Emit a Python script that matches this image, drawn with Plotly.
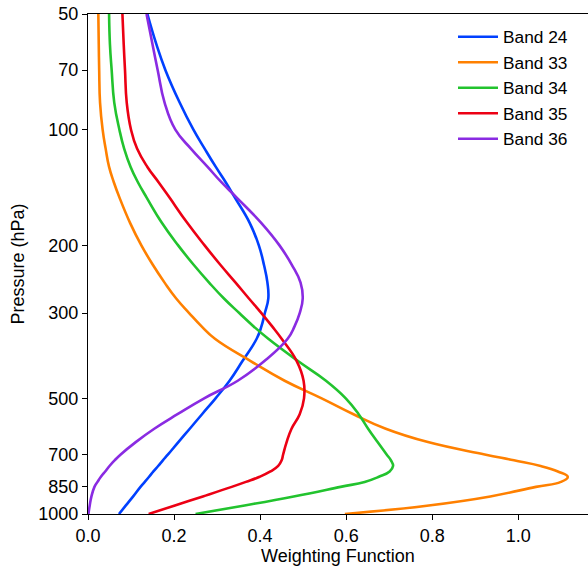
import plotly.graph_objects as go

# Pressure levels (hPa) at which each weighting function is tabulated
pressure = [50, 60, 70, 85, 100, 112, 125, 137, 150, 175, 200, 225, 250, 275,
            300, 325, 350, 400, 450, 500, 550, 600, 650, 700, 725, 750, 775,
            800, 825, 850, 900, 950, 1000]

band24 = [0.138, 0.159, 0.180, 0.213, 0.245, 0.271, 0.297, 0.320, 0.341, 0.376,
          0.397, 0.409, 0.417, 0.419, 0.411, 0.403, 0.392, 0.359, 0.329, 0.2965,
          0.265, 0.2365, 0.210, 0.186, 0.174, 0.163, 0.152, 0.142, 0.132, 0.122,
          0.105, 0.088, 0.072]

band33 = [0.024, 0.025, 0.026, 0.028, 0.034, 0.041, 0.049, 0.060, 0.073, 0.098,
          0.124, 0.151, 0.178, 0.205, 0.235, 0.264, 0.295, 0.378, 0.457, 0.543,
          0.617, 0.692, 0.790, 0.922, 0.990, 1.052, 1.092, 1.115, 1.099, 1.041,
          0.935, 0.792, 0.597]

band34 = [0.049, 0.051, 0.055, 0.061, 0.073, 0.084, 0.099, 0.116, 0.136, 0.172,
          0.2095, 0.246, 0.2815, 0.316, 0.3515, 0.385, 0.419, 0.488, 0.553, 0.599,
          0.629, 0.651, 0.673, 0.694, 0.704, 0.709, 0.701, 0.676, 0.643, 0.587,
          0.478, 0.364, 0.250]

band35 = [0.080, 0.083, 0.086, 0.090, 0.100, 0.114, 0.138, 0.164, 0.189, 0.231,
          0.271, 0.308, 0.343, 0.374, 0.403, 0.428, 0.450, 0.485, 0.501, 0.502,
          0.492, 0.473, 0.4616, 0.4535, 0.450, 0.442, 0.424, 0.399, 0.367, 0.334,
          0.267, 0.202, 0.141]

band36 = [0.136, 0.150, 0.162, 0.178, 0.203, 0.239, 0.278, 0.310, 0.345, 0.403,
          0.445, 0.474, 0.494, 0.499, 0.492, 0.480, 0.464, 0.410, 0.348, 0.270,
          0.208, 0.154, 0.111, 0.076, 0.062, 0.050, 0.040, 0.030, 0.022, 0.015,
          0.008, 0.004, 0.001]

band_names = ["Band 24", "Band 33", "Band 34", "Band 35", "Band 36"]
band_values = [band24, band33, band34, band35, band36]
band_colors = ["#0040ff", "#ff8000", "#22c32e", "#ec0014", "#8a2be2"]

y_ticks = [50, 70, 100, 200, 300, 500, 700, 850, 1000]
x_ticks = [0.0, 0.2, 0.4, 0.6, 0.8, 1.0]

FONT = "Liberation Sans, Arial, sans-serif"
FS = 18

fig = go.Figure()
for name, vals, col in zip(band_names, band_values, band_colors):
    fig.add_trace(go.Scatter(
        x=vals, y=pressure, name=name, mode="lines",
        line=dict(color=col, width=2.6, shape="spline", smoothing=1.3),
    ))

fig.update_layout(
    width=588, height=566,
    margin=dict(l=88, r=0, t=14, b=52),
    paper_bgcolor="white", plot_bgcolor="white",
    font=dict(family=FONT, size=FS, color="black"),
    showlegend=True,
    legend=dict(
        x=0.730, y=0.99, xanchor="left", yanchor="top",
        bgcolor="rgba(0,0,0,0)", borderwidth=0,
        font=dict(family=FONT, size=17.3, color="black"),
        itemwidth=40, tracegroupgap=0,
    ),
)

fig.update_xaxes(
    range=[0, 1.162], tickvals=x_ticks, ticktext=[f"{v:.1f}" for v in x_ticks],
    showgrid=False, zeroline=False,
    showline=True, linecolor="black", linewidth=1.3, mirror=True,
    ticks="outside", ticklen=5, tickwidth=1.3, tickcolor="black",
    title=dict(text="Weighting Function", standoff=4,
               font=dict(family=FONT, size=FS)),
    tickfont=dict(family=FONT, size=FS),
)

fig.update_yaxes(
    type="log", range=[3.0, 1.69897], tickvals=y_ticks,
    ticktext=[str(v) for v in y_ticks],
    showgrid=False, zeroline=False,
    showline=True, linecolor="black", linewidth=1.3, mirror=False,
    ticks="outside", ticklen=5, tickwidth=1.3, tickcolor="black",
    title=dict(text="Pressure (hPa)", standoff=8,
               font=dict(family=FONT, size=FS)),
    tickfont=dict(family=FONT, size=FS),
)

fig.write_html("out.html")
